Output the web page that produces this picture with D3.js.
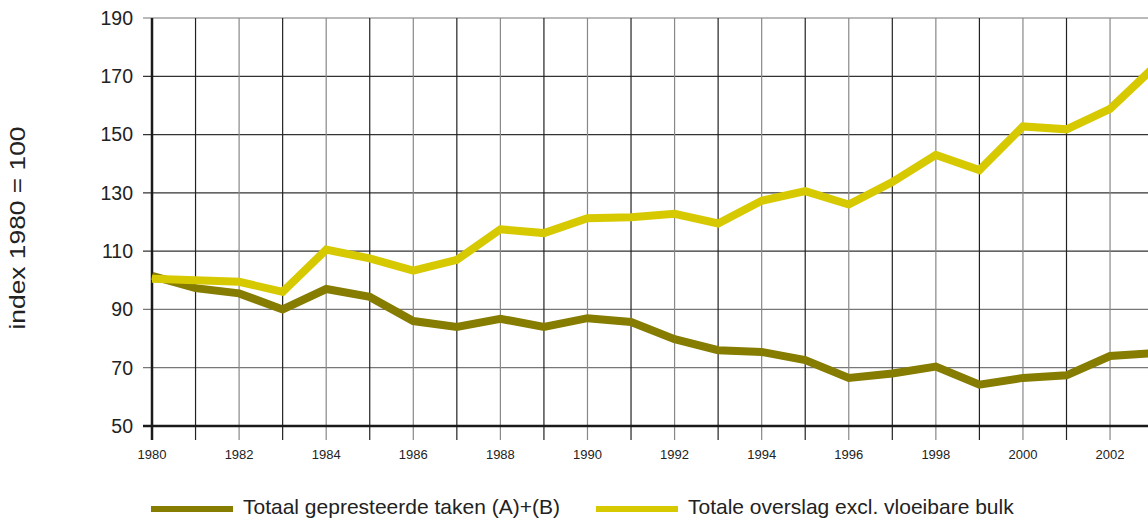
<!DOCTYPE html>
<html><head><meta charset="utf-8">
<script src="https://cdn.jsdelivr.net/npm/d3@7"></script>
<style>body{margin:0;background:#fff}svg{display:block;font-family:"Liberation Sans",Arial,sans-serif}</style>
</head><body><svg id="c" width="1148" height="519"></svg>
<script>
const years = d3.range(1980, 2004);
const totaalTaken = [101.5,97.3,95.5,90,97,94.3,86,84,86.8,84,87,85.7,79.8,76,75.4,72.6,66.5,68,70.4,64.2,66.5,67.4,74,75];
const totaleOverslag = [100.5,100,99.5,96,110.5,107.5,103.3,107,117.5,116.2,121.3,121.6,122.8,119.5,127.3,130.6,126,133.7,143,137.8,152.8,151.8,158.8,173];
const yTicks = [50,70,90,110,130,150,170,190];
const xLabels = d3.range(1980, 2003, 2);
const seriesNames = ["Totaal gepresteerde taken (A)+(B)", "Totale overslag excl. vloeibare bulk"];
const colors = ["#857c00", "#d7c900"];

const svg = d3.select("#c");
const x = d3.scaleLinear().domain([1980, 2003]).range([152, 1153.6]);
const y = d3.scaleLinear().domain([50, 190]).range([426, 18]);

// horizontal grid
svg.append("g").selectAll("line").data(yTicks.filter(d => d > 50)).join("line")
  .attr("x1", 143).attr("x2", 1148).attr("y1", d => y(d)).attr("y2", d => y(d))
  .attr("stroke", d => (d===190||d===90||d===70) ? "#777" : "#333").attr("stroke-width", 1.2);
// vertical grid
svg.append("g").selectAll("line").data(years.filter(d => d > 1980)).join("line")
  .attr("x1", d => x(d)).attr("x2", d => x(d)).attr("y1", y(190)).attr("y2", 440)
  .attr("stroke", d => d % 2 === 0 ? "#888" : "#222").attr("stroke-width", 1.2);

// y axis labels
svg.append("g").selectAll("text").data(yTicks).join("text")
  .attr("x", 133).attr("y", d => y(d)).attr("dy", "0.35em")
  .attr("text-anchor", "end").attr("font-size", 19.5).attr("fill", "#222").text(d => d);
svg.append("line").attr("x1", 143).attr("x2", 1148).attr("y1", y(50)).attr("y2", y(50))
  .attr("stroke", "#1a1a1a").attr("stroke-width", 2.5);
svg.append("line").attr("x1", x(1980)).attr("x2", x(1980)).attr("y1", y(190)).attr("y2", 440)
  .attr("stroke", "#1a1a1a").attr("stroke-width", 2.5);

// x labels
svg.append("g").selectAll("text").data(xLabels).join("text")
  .attr("x", d => x(d)).attr("y", 459).attr("text-anchor", "middle")
  .attr("font-size", 13).attr("fill", "#222").text(d => d);

// y title
svg.append("text").attr("transform", "translate(25,228) rotate(-90)")
  .attr("text-anchor", "middle").attr("font-size", 22).attr("fill", "#222")
  .attr("textLength", 203).attr("lengthAdjust", "spacingAndGlyphs").text("index 1980 = 100");

// lines
const line = d3.line().x((d,i) => x(years[i])).y(d => y(d));
[totaalTaken, totaleOverslag].forEach((s, k) => {
  svg.append("path").datum(s).attr("d", line).attr("fill", "none")
    .attr("stroke", colors[k]).attr("stroke-width", 8).attr("stroke-linejoin", "miter");
});

// legend
const lx = [151, 596];
seriesNames.forEach((n, k) => {
  svg.append("rect").attr("x", lx[k]).attr("y", 506).attr("width", 82).attr("height", 6).attr("fill", colors[k]);
  svg.append("text").attr("x", lx[k] + 92).attr("y", 514).attr("font-size", 21).attr("fill", "#222").text(n);
});
</script></body></html>
